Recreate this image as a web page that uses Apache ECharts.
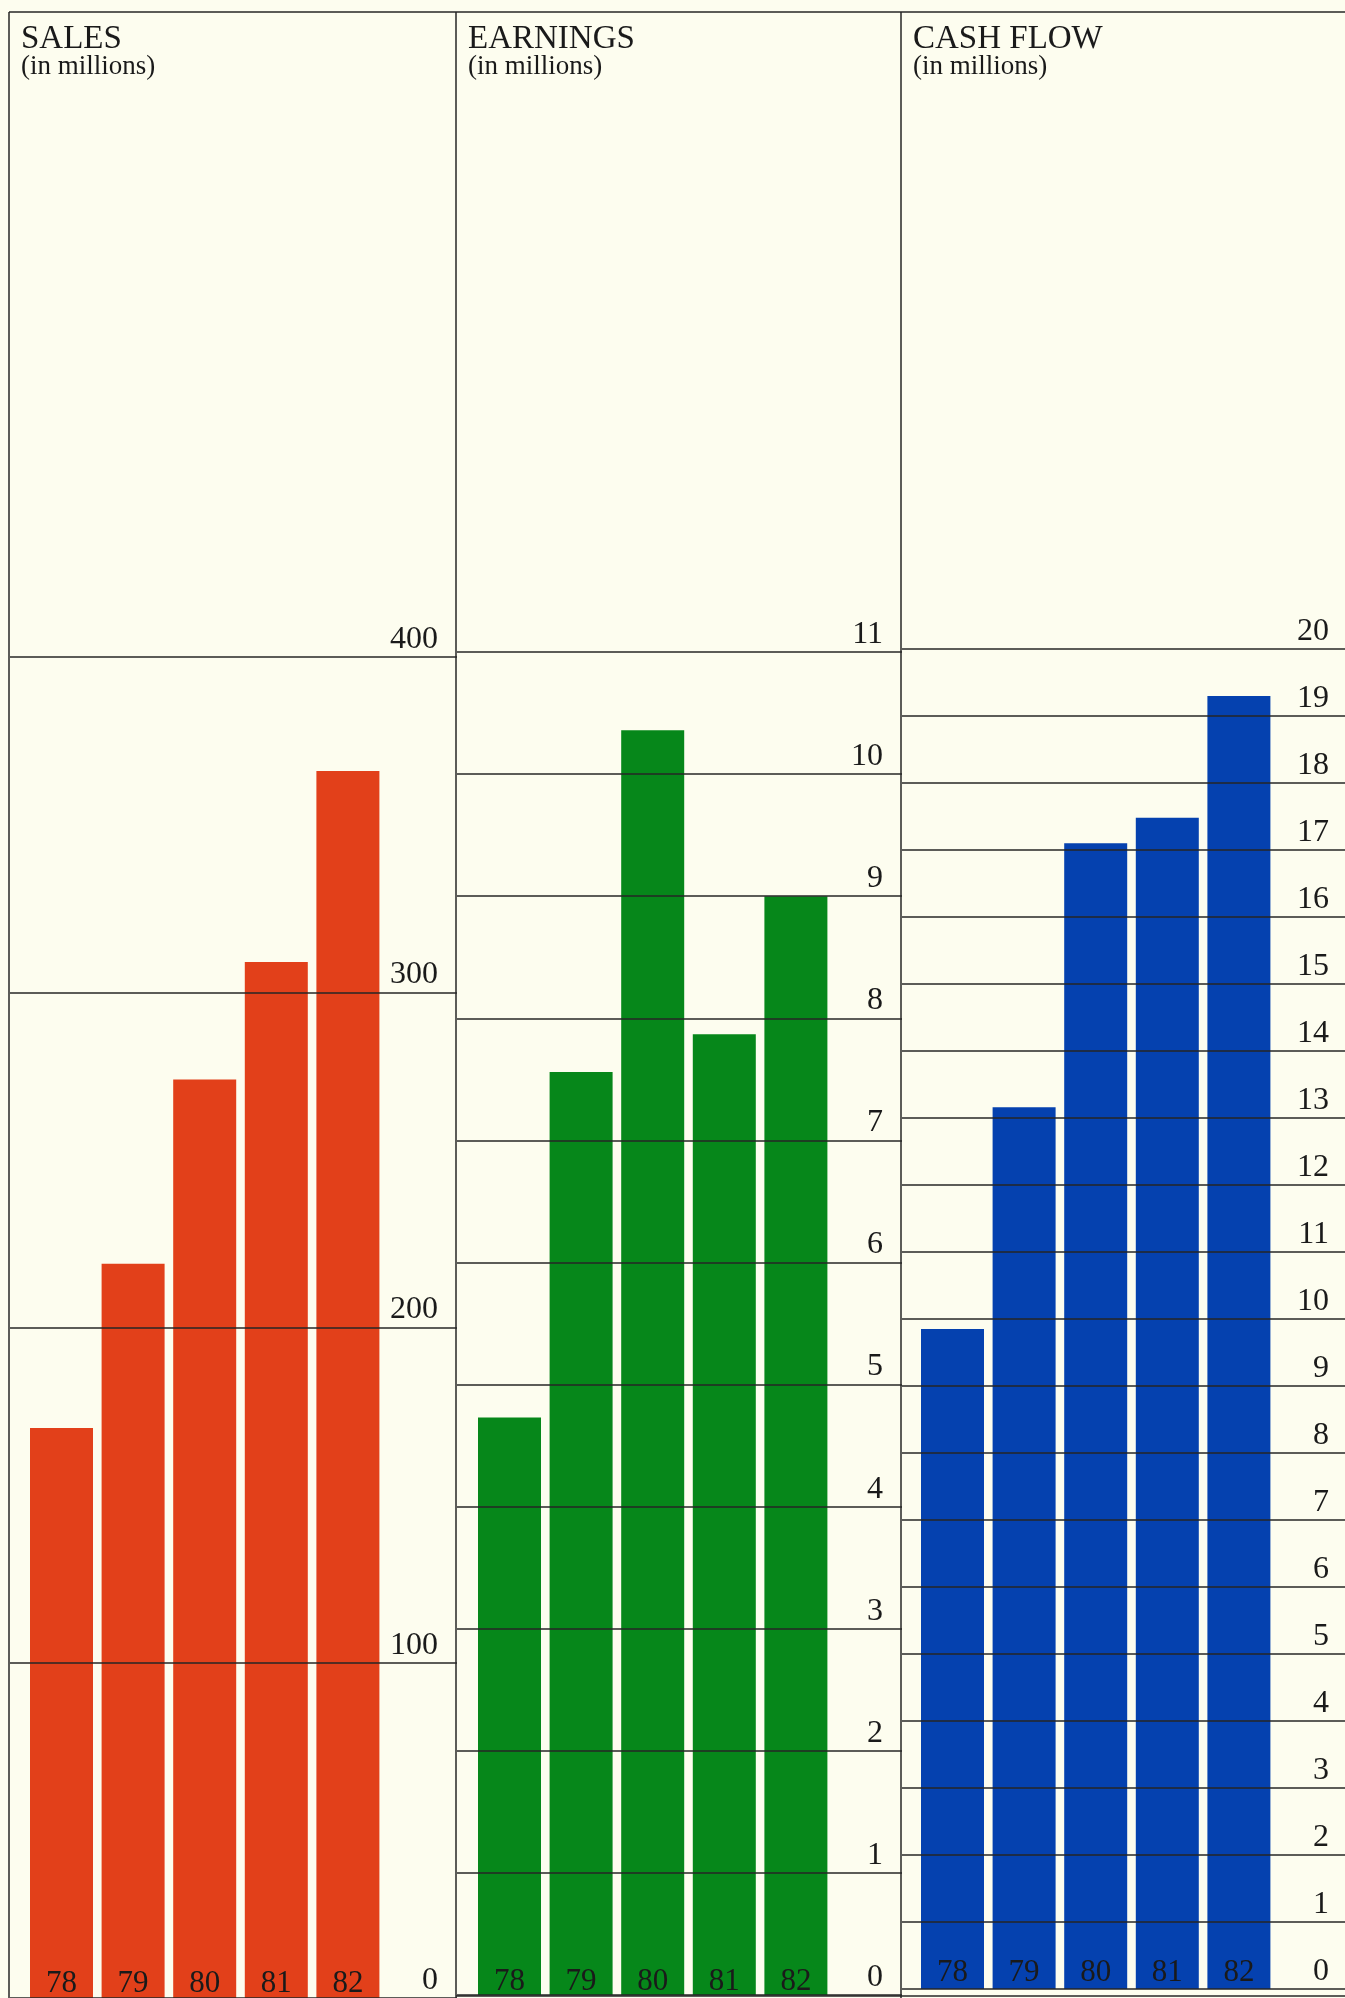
<!DOCTYPE html>
<html><head><meta charset="utf-8">
<script src="https://cdn.jsdelivr.net/npm/echarts@6/dist/echarts.min.js"></script>
<style>html,body{margin:0;padding:0;background:#FDFDEF;} #c{width:1345px;height:1998px;}</style>
</head><body><div id="c"></div>
<script>
// ---- data ----
const years = ['78', '79', '80', '81', '82'];
const salesValues = [170, 219, 274, 309, 366];
const earningsValues = [4.73, 7.56, 10.36, 7.87, 9.0];
const cashFlowValues = [9.85, 13.16, 17.1, 17.48, 19.3];
const panelTitles = ['SALES', 'EARNINGS', 'CASH FLOW'];
const panelSubtitle = '(in millions)';
const axisMin = [0, 0, 0];
const axisMax = [400, 11, 20];
const axisInterval = [100, 1, 1];

// ---- layout / style ----
const FONT = '"Liberation Serif", "DejaVu Serif", serif';
const INK = '#1a1a1a';
const BG = '#FDFDEF';
const colors = ['#E2401A', '#06871A', '#0541AF'];
const panels = [
  {left: 10, right: 457, top: 657, bottom: 1998, barLeft: 25.7, labelMargin: 19, yearMargin: -1},
  {left: 457, right: 902, top: 652, bottom: 1995, barLeft: 473.7, labelMargin: 19, yearMargin: -2},
  {left: 902, right: 1345, top: 649, bottom: 1989, barLeft: 916.7, labelMargin: 16, yearMargin: 1}
];
const barGridWidth = 358;
const seriesData = [salesValues, earningsValues, cashFlowValues];

const grid = [], xAxis = [], yAxis = [], series = [], title = [];
panels.forEach((p, i) => {
  // full-width panel grid (gridlines + tick labels)
  grid.push({left: p.left, top: p.top, width: p.right - p.left, height: p.bottom - p.top, outerBoundsMode: 'none', containLabel: false});
  // bar grid
  grid.push({left: p.barLeft, top: p.top, width: barGridWidth, height: p.bottom - p.top, outerBoundsMode: 'none', containLabel: false});
  const gFull = 2 * i, gBar = 2 * i + 1;
  xAxis.push({gridIndex: gFull, type: 'value', min: 0, max: 1, show: false});
  xAxis.push({
    gridIndex: gBar, type: 'category', data: years, position: 'bottom', z: 4,
    axisLine: {show: false}, axisTick: {show: false}, splitLine: {show: false},
    axisLabel: {inside: true, margin: p.yearMargin, interval: 0, fontFamily: FONT, fontSize: 31, color: INK, lineHeight: 31}
  });
  yAxis.push({
    gridIndex: gFull, type: 'value', position: 'right', min: axisMin[i], max: axisMax[i], interval: axisInterval[i], z: 3,
    axisLine: {show: false}, axisTick: {show: false},
    splitLine: {show: true, lineStyle: {color: '#262626', width: 1.5}},
    axisLabel: {inside: true, margin: p.labelMargin, showMinLabel: true, showMaxLabel: true,
      verticalAlign: 'bottom', align: 'right', lineHeight: 35,
      fontFamily: FONT, fontSize: 32, color: INK}
  });
  yAxis.push({gridIndex: gBar, type: 'value', min: axisMin[i], max: axisMax[i], interval: axisInterval[i], show: false});
  series.push({
    type: 'bar', xAxisIndex: 2 * i + 1, yAxisIndex: 2 * i + 1, data: seriesData[i],
    barWidth: 63, itemStyle: {color: colors[i]}, z: 2, silent: true
  });
  title.push({text: panelTitles[i], left: p.left + 11, top: 23, padding: 0,
    textStyle: {fontFamily: FONT, fontSize: 33, fontWeight: 'normal', color: INK}});
  title.push({text: panelSubtitle, left: p.left + 11, top: 53, padding: 0,
    textStyle: {fontFamily: FONT, fontSize: 27, fontWeight: 'normal', color: INK}});
});

const lineStyle = {stroke: '#262626', lineWidth: 1.5};
const graphic = [
  {type: 'line', shape: {x1: 9, y1: 12, x2: 1345, y2: 12}, style: lineStyle, z: 10},
  {type: 'line', shape: {x1: 9, y1: 12, x2: 9, y2: 1998}, style: lineStyle, z: 10},
  {type: 'line', shape: {x1: 456, y1: 12, x2: 456, y2: 1998}, style: lineStyle, z: 10},
  {type: 'line', shape: {x1: 901, y1: 12, x2: 901, y2: 1998}, style: lineStyle, z: 10},
  {type: 'line', shape: {x1: 456, y1: 1996, x2: 1345, y2: 1996}, style: lineStyle, z: 10}
];

const chart = echarts.init(document.getElementById('c'), null, {renderer: 'canvas'});
chart.setOption({
  backgroundColor: BG,
  animation: false,
  title, grid, xAxis, yAxis, series, graphic
});
</script>
</body></html>
